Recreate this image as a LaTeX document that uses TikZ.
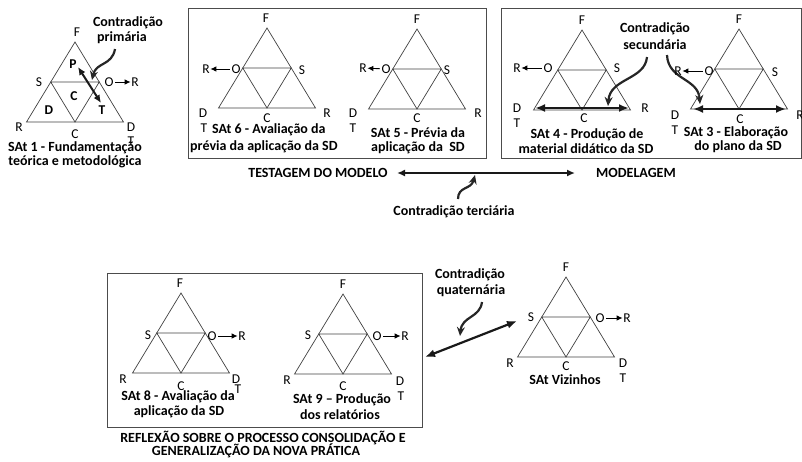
\documentclass[tikz,border=0pt]{standalone}
\usepackage{fontspec}
\setmainfont{Carlito}
\usetikzlibrary{arrows.meta}
\begin{document}
\begin{tikzpicture}[x=1pt,y=-1pt,
 triline/.style={line width=0.7pt, draw=black!75},
 tri/.pic={
  \coordinate (-F) at (0,0);
  \coordinate (-L) at (-48.5,80);
  \coordinate (-Rr) at (48.5,80);
  \coordinate (-ml) at (-24.25,40);
  \coordinate (-mr) at (24.25,40);
  \coordinate (-mb) at (0,80);
  \draw[triline] (-F) -- (-L) -- (-Rr) -- cycle;
  \draw[triline] (-ml) -- (-mr) -- (-mb) -- cycle;
 },
 lbl/.style={font=\fontsize{13.5}{15}\selectfont, inner sep=0.5pt},
 blbl/.style={font=\fontsize{13.5}{15}\selectfont\bfseries, inner sep=0.5pt},
 captxt/.style={font=\fontsize{14}{15}\selectfont\bfseries, inner sep=0pt},
 smallarr/.style={-{Latex[length=6pt,width=5.5pt]}, line width=0.9pt, shorten <=1pt},
 bigarr/.style={{Latex[length=10pt,width=8pt]}-{Latex[length=10pt,width=8pt]}, line width=2.2pt, draw=black!90},
 medarr/.style={{Latex[length=8pt,width=7pt]}-{Latex[length=8pt,width=7pt]}, line width=2pt, draw=black!90},
 curvarr/.style={-{Stealth[length=9pt,width=8pt]}, line width=2.2pt, draw=black!85},
 frame/.style={draw=black!70, line width=0.8pt}
]
\useasboundingbox (0,0) rectangle (802,461);

% ---------- SAt 1 ----------
\pic (t1) at (75,42) {tri};
\node[lbl] (t1F) at (77,32) {F};
\node[lbl] (t1S) at (39,82) {S};
\node[lbl] (t1O) at (109,82) {O};
\node[lbl] (t1R) at (135,82) {R};
\draw[smallarr] (t1O) -- (t1R);
\node[lbl] (t1Rb) at (19,127) {R};
\node[lbl] (t1Cb) at (75,134) {C};
\node[lbl] (t1Db) at (131,127) {D};
\node[lbl] (t1Tb) at (131,141) {T};
\node[blbl] (t1P) at (73,64) {P};
\node[blbl] (t1C) at (74,96) {C};
\node[blbl] (t1D) at (49,110) {D};
\node[blbl] (t1T) at (102,110) {T};
\coordinate (p1) at (78,67);
\coordinate (p2) at (101,103);
\draw[medarr] (p1) -- (p2);
\node[captxt] (cp1) at (128,23) {Contradição};
\node[captxt] (cp2) at (122,38) {primária};
\coordinate (cpa) at (115,49);
\coordinate (cpb) at (92,80);
\draw[curvarr] (cpa) .. controls (112,66) and (96,62) .. (cpb);
\node[captxt] (s1a) at (75,148) {SAt 1 - Fundamentação};
\node[captxt] (s1b) at (75,162) {teórica e metodológica};

% ---------- box 1 ----------
\draw[frame] (188,8) rectangle (486,158);
% SAt 6
\pic (t6) at (267,28) {tri};
\node[lbl] (t6F) at (266,18) {F};
\node[lbl] (t6R) at (206,69) {R};
\node[lbl] (t6O) at (236,69) {O};
\draw[smallarr] (t6O) -- (t6R);
\node[lbl] (t6S) at (302,70) {S};
\node[lbl] (t6D) at (203,113) {D};
\node[lbl] (t6T) at (204,128) {T};
\node[lbl] (t6C) at (267,118) {C};
\node[lbl] (t6Rb) at (327,113) {R};
\node[captxt, anchor=west] (s6a) at (212,130) {SAt 6 - Avaliação da};
\node[captxt, anchor=west] (s6b) at (190,147) {prévia da aplicação da SD};
% SAt 5
\pic (t5) at (417,29) {tri};
\node[lbl] (t5F) at (417,19) {F};
\node[lbl] (t5R) at (363,68) {R};
\node[lbl] (t5O) at (386,69) {O};
\draw[smallarr] (t5O) -- (t5R);
\node[lbl] (t5S) at (447,70) {S};
\node[lbl] (t5D) at (353,113) {D};
\node[lbl] (t5T) at (353,128) {T};
\node[lbl] (t5C) at (417,118) {C};
\node[lbl] (t5Rb) at (478,113) {R};
\node[captxt] (s5a) at (418,133) {SAt 5 - Prévia da};
\node[captxt] (s5b) at (418,148) {aplicação da\ \ SD};

% ---------- box 2 ----------
\draw[frame] (501,8) rectangle (801.6,158);
% SAt 4
\pic (t4) at (582,30) {tri};
\node[lbl] (t4F) at (582,20) {F};
\node[lbl] (t4R) at (517,68) {R};
\node[lbl] (t4O) at (548,68) {O};
\draw[smallarr] (t4O) -- (t4R);
\node[lbl] (t4S) at (617,68) {S};
\node[lbl] (t4D) at (517,108) {D};
\node[lbl] (t4T) at (517,123) {T};
\node[lbl] (t4C) at (584,118) {C};
\node[lbl] (t4Rb) at (645,108) {R};
\coordinate (b4a) at (535,108);
\coordinate (b4b) at (629,108);
\draw[bigarr] (b4a) -- (b4b);
\node[captxt] (s4a) at (587,135) {SAt 4 - Produção de};
\node[captxt] (s4b) at (586,149) {material didático da SD};
% secondary contradiction
\node[captxt] (cs1) at (655,29) {Contradição};
\node[captxt] (cs2) at (655,45) {secundária};
\coordinate (csa) at (647,57);
\coordinate (csb) at (608,106);
\draw[curvarr] (csa) .. controls (645,80) and (610,78) .. (csb);
\coordinate (csc) at (667,55);
\coordinate (csd) at (700,104);
\draw[curvarr] (csc) .. controls (668,80) and (698,78) .. (csd);
% SAt 3
\pic (t3) at (739,29) {tri};
\node[lbl] (t3F) at (739,19) {F};
\node[lbl] (t3R) at (678,71) {R};
\node[lbl] (t3O) at (709,71) {O};
\draw[smallarr] (t3O) -- (t3R);
\node[lbl] (t3S) at (775,72) {S};
\node[lbl] (t3D) at (675,115) {D};
\node[lbl] (t3T) at (675,130) {T};
\node[lbl] (t3C) at (740,119) {C};
\node[lbl] (t3Rb) at (800,115) {R};
\coordinate (b3a) at (693,109);
\coordinate (b3b) at (786,109);
\draw[bigarr] (b3a) -- (b3b);
\node[captxt] (s3a) at (736,133) {SAt 3 - Elaboração};
\node[captxt] (s3b) at (738,147) {do plano da SD};

% ---------- tertiary ----------
\node[captxt] (testa) at (318,173) {TESTAGEM DO MODELO};
\node[captxt] (model) at (636,173) {MODELAGEM};
\coordinate (ta) at (397,173);
\coordinate (tb) at (575,173);
\draw[medarr] (ta) -- (tb);
\node[captxt] (ct) at (454,212) {Contradição terciária};
\coordinate (tca) at (458,199);
\coordinate (tcb) at (475,175);
\draw[curvarr] (tca) .. controls (458,186) and (471,190) .. (tcb);

% ---------- box 3 ----------
\draw[frame] (107,273) rectangle (422,427);
% SAt 8
\pic (t8) at (181,293) {tri};
\node[lbl] (t8F) at (180,283) {F};
\node[lbl] (t8S) at (148,335) {S};
\node[lbl] (t8O) at (212,336) {O};
\node[lbl] (t8R) at (242,336) {R};
\draw[smallarr] (t8O) -- (t8R);
\node[lbl] (t8Rb) at (123,379) {R};
\node[lbl] (t8C) at (181,386) {C};
\node[lbl] (t8D) at (236,379) {D};
\node[lbl] (t8T) at (238,389) {T};
\node[captxt] (s8a) at (178,397) {SAt 8 - Avaliação da};
\node[captxt] (s8b) at (179,412) {aplicação da SD};
% SAt 9
\pic (t9) at (343,294) {tri};
\node[lbl] (t9F) at (343,284) {F};
\node[lbl] (t9S) at (308,335) {S};
\node[lbl] (t9O) at (377,336) {O};
\node[lbl] (t9R) at (405,336) {R};
\draw[smallarr] (t9O) -- (t9R);
\node[lbl] (t9Rb) at (287,380) {R};
\node[lbl] (t9C) at (343,386) {C};
\node[lbl] (t9D) at (400,381) {D};
\node[lbl] (t9T) at (401,396) {T};
\node[captxt] (s9a) at (342,400) {SAt 9 -- Produção};
\node[captxt] (s9b) at (340,415) {dos relatórios};
\node[captxt] (ref1) at (263,438) {REFLEXÃO SOBRE O PROCESSO CONSOLIDAÇÃO E};
\node[captxt] (ref2) at (256,451) {GENERALIZAÇÃO DA NOVA PRÁTICA};

% ---------- SAt Vizinhos ----------
\pic (tv) at (566,277) {tri};
\node[lbl] (tvF) at (566,267) {F};
\node[lbl] (tvS) at (531,317) {S};
\node[lbl] (tvO) at (600,318) {O};
\node[lbl] (tvR) at (627,318) {R};
\draw[smallarr] (tvO) -- (tvR);
\node[lbl] (tvRb) at (510,363) {R};
\node[lbl] (tvC) at (566,366) {C};
\node[lbl] (tvD) at (623,363) {D};
\node[lbl] (tvT) at (623,378) {T};
\node[captxt] (sv) at (565,380) {SAt Vizinhos};
% quaternary
\node[captxt] (cq1) at (470,275) {Contradição};
\node[captxt] (cq2) at (471,291) {quaternária};
\coordinate (qa) at (425,357);
\coordinate (qb) at (517,321);
\draw[bigarr] (qa) -- (qb);
\coordinate (qca) at (482,302);
\coordinate (qcb) at (460,336);
\draw[curvarr] (qca) .. controls (480,318) and (462,316) .. (qcb);
\end{tikzpicture}
\end{document}
